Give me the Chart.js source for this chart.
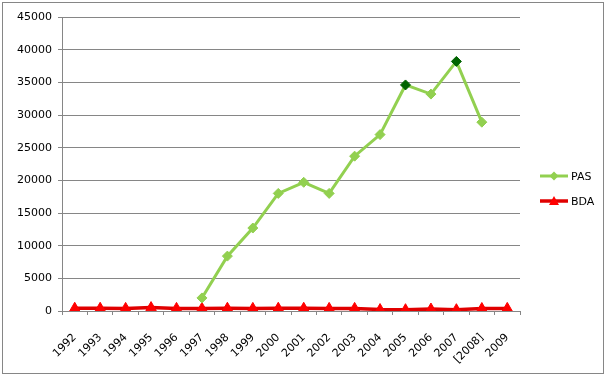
<!DOCTYPE html>
<html><head><meta charset="utf-8">
<script src="https://cdn.jsdelivr.net/npm/chart.js@4/dist/chart.umd.min.js"></script>
<style>html,body{margin:0;padding:0;background:#fff;}#wrap{width:610px;height:378px;position:relative;}</style>
</head><body><div id="wrap"><canvas id="c" width="610" height="378"></canvas></div>
<script>
const years = ['1992','1993','1994','1995','1996','1997','1998','1999','2000','2001','2002','2003','2004','2005','2006','2007','[2008]','2009'];
const pas = [null,null,null,null,null,2000,8400,12700,18000,19700,18000,23700,27000,34600,33200,38200,28900,null];
const bda = [420,420,400,520,400,400,420,400,420,420,400,400,220,200,300,200,380,400];
const yTicks = [0,5000,10000,15000,20000,25000,30000,35000,40000,45000];
const highlighted = ['2005','2007'];

const FONT = 'DejaVu Sans';
const GRAY = '#868686';

const framePlugin = {
  id:'frame',
  beforeDraw(chart){
    const c = chart.ctx;
    c.save();
    c.fillStyle='#fff'; c.fillRect(0,0,chart.width,chart.height);
    c.strokeStyle=GRAY; c.lineWidth=1;
    c.strokeRect(2.5,2.5,601,371);
    c.restore();
  }
};
const legendPlugin = {
  id:'xlLegend',
  afterDraw(chart){
    const c = chart.ctx;
    const ys=[176,201];
    chart.data.datasets.forEach((ds,i)=>{
      const y=ys[i];
      c.save();
      c.strokeStyle=ds.borderColor; c.lineWidth=ds.borderWidth;
      c.beginPath(); c.moveTo(540,y); c.lineTo(568,y); c.stroke();
      c.fillStyle=ds.legendMarker;
      c.beginPath();
      if(ds.pointStyle==='rectRot'){
        const r=4.5; c.moveTo(554,y-r); c.lineTo(554+r,y); c.lineTo(554,y+r); c.lineTo(554-r,y);
      } else {
        const r=5; c.moveTo(554,y-r); c.lineTo(554+r,y+r*0.8); c.lineTo(554-r,y+r*0.8);
      }
      c.closePath(); c.fill();
      c.fillStyle='#000'; c.font='11px '+FONT; c.textBaseline='middle';
      c.fillText(ds.label,571,y+1);
      c.restore();
    });
  }
};

new Chart(document.getElementById('c'),{
  type:'line',
  data:{labels:years,datasets:[
    {label:'PAS',data:pas,borderColor:'#92D050',borderWidth:3,pointStyle:'rectRot',pointRadius:5,pointHoverRadius:5,
     legendMarker:'#92D050',
     pointBackgroundColor:ctx=>highlighted.includes(years[ctx.dataIndex])?'#006400':'#92D050',
     pointBorderColor:ctx=>highlighted.includes(years[ctx.dataIndex])?'#006400':'#92D050',
     pointBorderWidth:1,tension:0,spanGaps:false},
    {label:'BDA',data:bda,borderColor:'#E00000',borderWidth:3.5,pointStyle:'triangle',pointRadius:6,pointHoverRadius:6,
     legendMarker:'#FF0000',
     pointBackgroundColor:'#FF0000',pointBorderColor:'#FF0000',pointBorderWidth:1,tension:0}
  ]},
  options:{
    responsive:false,animation:false,devicePixelRatio:1,
    layout:{padding:{left:0,top:17,right:90,bottom:0}},
    plugins:{legend:{display:false},tooltip:{enabled:false}},
    scales:{
      x:{offset:true,
        grid:{offset:true,drawOnChartArea:false,drawTicks:true,tickLength:4,color:GRAY},
        border:{color:GRAY,width:1},
        ticks:{minRotation:45,maxRotation:45,autoSkip:false,color:'#000',font:{family:FONT,size:11},padding:16},
        afterFit(s){s.height=67;}
      },
      y:{min:0,max:45000,
        afterBuildTicks(s){s.ticks=yTicks.map(v=>({value:v}));},
        grid:{color:GRAY,drawTicks:true,tickLength:4},
        border:{color:GRAY,width:1},
        ticks:{color:'#000',font:{family:FONT,size:11},padding:6,callback:v=>String(v)},
        afterFit(s){s.width=62;}
      }
    }
  },
  plugins:[framePlugin,legendPlugin]
});
</script></body></html>
